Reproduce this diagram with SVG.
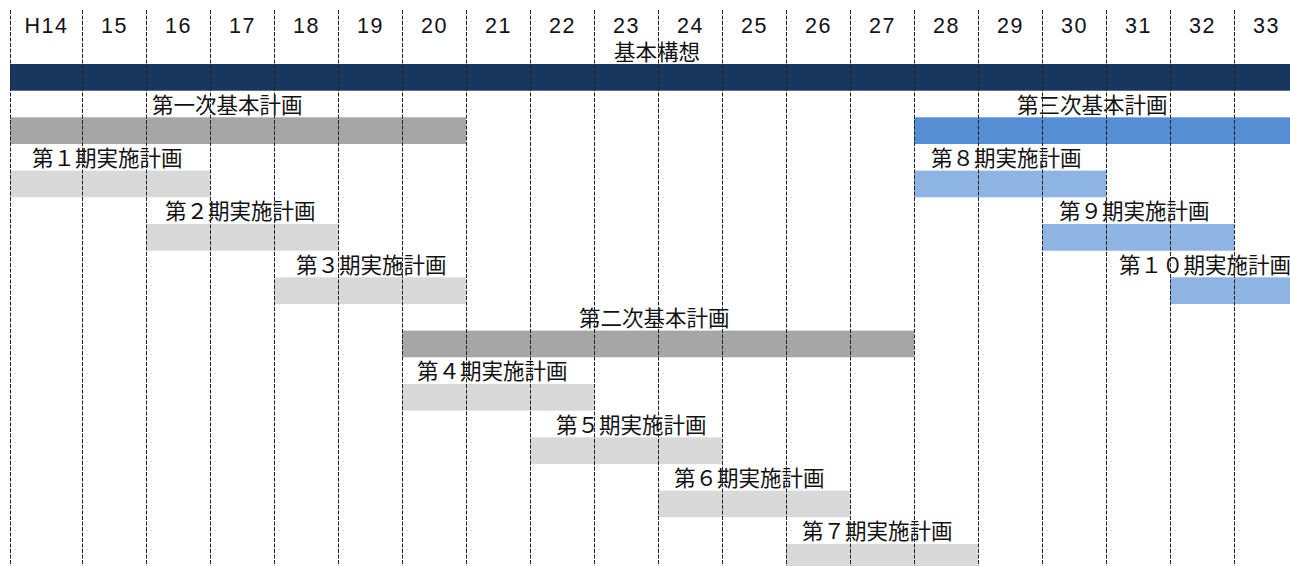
<svg xmlns="http://www.w3.org/2000/svg" width="1290" height="566" viewBox="0 0 1290 566">
<style>
text{font-family:"Noto Sans CJK JP","Liberation Sans",sans-serif;fill:#111;}
.hd{font-family:"Liberation Sans","Noto Sans CJK JP",sans-serif;font-size:21.5px;letter-spacing:1.5px;text-anchor:middle;}
.lb{font-size:21.5px;}
.grid line{stroke:#222;stroke-width:1;stroke-dasharray:4 1.5;}
.navy{fill:#17375E}
.g1{fill:#A6A6A6}
.g2{fill:#D9D9D9}
.b1{fill:#558ED5}
.b2{fill:#8EB4E3}
</style>
<rect width="1290" height="566" fill="#fff"/>
<g id="bars">
<g id="kihon-koso"><rect class="navy" x="10" y="64" width="1280" height="26.7"/><text class="lb" x="614" y="59.5">基本構想</text></g>
<g id="dai1ji"><rect class="g1" x="10" y="117.3" width="456" height="26.7"/><text class="lb" x="152" y="112.5">第一次基本計画</text></g>
<g id="ki1"><rect class="g2" x="10" y="170.6" width="200" height="26.7"/><text class="lb" x="32" y="165.8">第１期実施計画</text></g>
<g id="ki2"><rect class="g2" x="146" y="224" width="192" height="26.7"/><text class="lb" x="165" y="219">第２期実施計画</text></g>
<g id="ki3"><rect class="g2" x="274" y="277.3" width="192" height="26.7"/><text class="lb" x="296" y="272.5">第３期実施計画</text></g>
<g id="dai2ji"><rect class="g1" x="402" y="330.6" width="512" height="26.7"/><text class="lb" x="579" y="325.8">第二次基本計画</text></g>
<g id="ki4"><rect class="g2" x="402" y="384" width="192" height="26.7"/><text class="lb" x="417" y="379">第４期実施計画</text></g>
<g id="ki5"><rect class="g2" x="530" y="437.3" width="192" height="26.7"/><text class="lb" x="556" y="432.5">第５期実施計画</text></g>
<g id="ki6"><rect class="g2" x="658" y="490.6" width="192" height="26.7"/><text class="lb" x="674" y="485.8">第６期実施計画</text></g>
<g id="ki7"><rect class="g2" x="786" y="544" width="192" height="26.7"/><text class="lb" x="802" y="539">第７期実施計画</text></g>
<g id="dai3ji"><rect class="b1" x="914" y="117.3" width="376" height="26.7"/><text class="lb" x="1017" y="112.5">第三次基本計画</text></g>
<g id="ki8"><rect class="b2" x="914" y="170.6" width="192" height="26.7"/><text class="lb" x="931" y="165.8">第８期実施計画</text></g>
<g id="ki9"><rect class="b2" x="1042" y="224" width="192" height="26.7"/><text class="lb" x="1059" y="219">第９期実施計画</text></g>
<g id="ki10"><rect class="b2" x="1170" y="277.3" width="120" height="26.7"/><text class="lb" x="1119" y="272.5">第１０期実施計画</text></g>
</g>
<g id="header">
<text class="hd" x="46.5" y="33">H14</text>
<text class="hd" x="114.5" y="33">15</text>
<text class="hd" x="178.5" y="33">16</text>
<text class="hd" x="242.5" y="33">17</text>
<text class="hd" x="306.5" y="33">18</text>
<text class="hd" x="370.5" y="33">19</text>
<text class="hd" x="434.5" y="33">20</text>
<text class="hd" x="498.5" y="33">21</text>
<text class="hd" x="562.5" y="33">22</text>
<text class="hd" x="626.5" y="33">23</text>
<text class="hd" x="690.5" y="33">24</text>
<text class="hd" x="754.5" y="33">25</text>
<text class="hd" x="818.5" y="33">26</text>
<text class="hd" x="882.5" y="33">27</text>
<text class="hd" x="946.5" y="33">28</text>
<text class="hd" x="1010.5" y="33">29</text>
<text class="hd" x="1074.5" y="33">30</text>
<text class="hd" x="1138.5" y="33">31</text>
<text class="hd" x="1202.5" y="33">32</text>
<text class="hd" x="1266.5" y="33">33</text>
</g>
<g id="connectors" class="grid">
<line x1="10.5" y1="10" x2="10.5" y2="566"/>
<line x1="82.5" y1="10" x2="82.5" y2="566"/>
<line x1="146.5" y1="10" x2="146.5" y2="566"/>
<line x1="210.5" y1="10" x2="210.5" y2="566"/>
<line x1="274.5" y1="10" x2="274.5" y2="566"/>
<line x1="338.5" y1="10" x2="338.5" y2="566"/>
<line x1="402.5" y1="10" x2="402.5" y2="566"/>
<line x1="466.5" y1="10" x2="466.5" y2="566"/>
<line x1="530.5" y1="10" x2="530.5" y2="566"/>
<line x1="594.5" y1="10" x2="594.5" y2="566"/>
<line x1="658.5" y1="10" x2="658.5" y2="566"/>
<line x1="722.5" y1="10" x2="722.5" y2="566"/>
<line x1="786.5" y1="10" x2="786.5" y2="566"/>
<line x1="850.5" y1="10" x2="850.5" y2="566"/>
<line x1="914.5" y1="10" x2="914.5" y2="566"/>
<line x1="978.5" y1="10" x2="978.5" y2="566"/>
<line x1="1042.5" y1="10" x2="1042.5" y2="566"/>
<line x1="1106.5" y1="10" x2="1106.5" y2="566"/>
<line x1="1170.5" y1="10" x2="1170.5" y2="566"/>
<line x1="1234.5" y1="10" x2="1234.5" y2="566"/>
</g>
</svg>
